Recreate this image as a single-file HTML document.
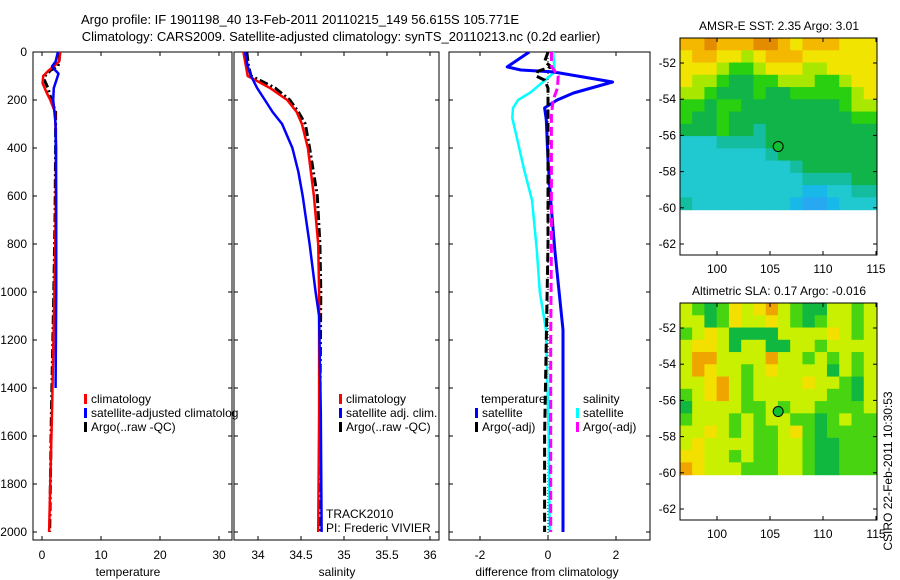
<!DOCTYPE html>
<html><head><meta charset="utf-8"><style>
html,body{margin:0;padding:0;background:#fff;}
svg{display:block;font-family:"Liberation Sans",sans-serif;}
text{font-size:12px;fill:#000;}
</style></head><body>
<svg id="chart" width="900" height="580" viewBox="0 0 900 580">
<text x="300" y="24" text-anchor="middle" style="font-size:13px">Argo profile: IF 1901198_40 13-Feb-2011 20110215_149 56.615S 105.771E</text>
<text x="341" y="41" text-anchor="middle" style="font-size:13px">Climatology: CARS2009. Satellite-adjusted climatology: synTS_20110213.nc (0.2d earlier)</text>
<g id="g"></g>
</svg>
<script>
// ---------- data ----------
const depthTicks=[0,200,400,600,800,1000,1200,1400,1600,1800,2000];
const tempTicks=[0,10,20,30];
const salTicks=[34,34.5,35,35.5,36];
const diffTicks=[-2,0,2];
// temperature profiles
const tClimDepth=[0,40,80,100,130,170,200,250,400,700,1000,1500,2000];
const tClimVal=[3.1,2.9,1.0,0.2,0.1,0.8,1.4,2.2,2.4,2.3,2.1,1.7,1.2];
const tSatDepth=[0,40,60,75,90,120,150,200,300,600,1000,1400];
const tSatVal=[2.7,2.3,1.7,2.2,2.8,2.4,2.0,1.9,2.3,2.4,2.4,2.3];
const tArgoDepth=[0,40,60,75,100,117,150,200,250,400,700,1000,1500,2000];
const tArgoVal=[3.0,2.9,2.7,1.5,0.5,0.4,1.0,1.6,2.3,2.3,2.2,2.0,1.6,1.3];
// salinity profiles
const sClimDepth=[0,60,100,150,200,250,300,400,600,800,1000,1500,2000];
const sClimVal=[33.83,33.86,33.88,34.14,34.34,34.45,34.51,34.58,34.65,34.7,34.71,34.71,34.70];
const sSatDepth=[0,60,100,150,200,250,300,400,500,600,800,1000,1100,1500,2000];
const sSatVal=[33.85,33.88,33.92,33.99,34.08,34.17,34.28,34.4,34.47,34.52,34.6,34.67,34.71,34.73,34.74];
const sArgoDepth=[0,60,100,150,200,250,300,400,600,800,1000,1500,2000];
const sArgoVal=[33.87,33.89,33.92,34.2,34.37,34.47,34.55,34.6,34.69,34.72,34.73,34.72,34.72];
// differences
const dTSatDepth=[0,62,75,83,125,171,200,233,283,450,617,825,1158,1600,2000];
const dTSatVal=[-0.55,-1.2,-0.8,0.15,1.9,0.75,0.27,-0.1,-0.05,0.0,0.08,0.2,0.44,0.44,0.44];
const dSSatDepth=[0,83,125,167,200,233,275,367,492,617,825,1000,1158,1600,2000];
const dSSatVal=[0.15,0.2,-0.15,-0.5,-0.88,-1.03,-1.05,-0.9,-0.7,-0.47,-0.33,-0.24,-0.06,0.02,0.05];
const dTArgoDepth=[0,40,62,80,100,117,150,200,400,800,1200,1600,2000];
const dTArgoVal=[0.0,-0.1,0.1,-0.3,-0.35,-0.1,0.0,0.0,0.0,0.0,-0.05,-0.1,-0.1];
const dSArgoDepth=[0,60,100,150,200,260,400,800,1200,1600,2000];
const dSArgoVal=[0.1,0.1,0.3,0.28,0.15,0.1,0.1,0.1,0.08,0.08,0.08];
// maps
const sstGrid=[
[6,6,7,6,6,6,7,7,6,5,6,6,6,5,5,5],
[5,6,6,5,5,4,5,6,6,6,5,5,5,5,5,5],
[5,5,5,4,3,3,4,5,5,5,4,4,5,5,5,5],
[5,4,4,3,2,2,3,3,4,4,4,3,3,4,5,5],
[4,4,3,2,2,2,3,2,2,3,3,3,3,3,4,5],
[3,3,2,3,3,2,2,2,2,2,2,2,2,3,4,4],
[3,2,2,3,2,2,2,2,2,2,2,2,2,2,3,3],
[2,2,2,3,2,2,1.5,2,2,2,2,2,2,2,2,2],
[1,1,1,1.5,1.5,1.5,1.5,2,2,2,2,2,2,2,2,2],
[1,1,1,1,1,1,1,1.5,2,2,2,2,2,2,2,2],
[1,1,1,1,1,1,1,1,1,1.5,2,2,2,2,2,2],
[1,1,1,1,1,1,1,1,1,1,1.5,1.5,1.5,1.5,2,2],
[1,1,1,1,1,1,1,1,1,1,0.5,0.5,1,1,1.5,1.5],
[1.5,1,1,1,1,1,1,1,1,0.5,0,0,0.5,1,1,1]];
const slaGrid=[
[4,3,2,3,5,4,5,6,4,3,2,2,4,4,3,4],
[4,4,2,3,5,4,4,5,4,3,2,3,4,4,3,4],
[3,4,5,4,2,2,2,2,4,4,4,4,5,4,3,4],
[4,5,5,4,2,4,4,2,2,4,4,3,4,4,4,4],
[4,6,6,4,4,4,4,6,4,4,3,4,3,4,3,4],
[4,6,5,4,4,3,4,5,4,4,4,4,2,4,3,4],
[4,4,5,6,4,3,4,4,4,4,5,4,4,3,2,4],
[3,4,5,6,4,3,4,4,4,4,4,4,3,3,2,4],
[2,4,4,4,4,3,3,4,3,4,4,3,3,3,3,4],
[3,4,4,4,3,4,3,4,4,3,3,2,3,4,3,3],
[4,4,5,4,3,4,3,3,4,5,3,2,3,3,3,3],
[4,5,4,4,4,4,3,3,4,4,3,2,2,3,3,3],
[5,5,4,4,3,4,3,3,4,4,3,2,2,3,3,3],
[6,5,4,4,4,3,3,3,4,4,3,2,2,3,3,3]];
const latTicks=[-52,-54,-56,-58,-60,-62];
const lonTicks=[100,105,110,115];
const argoLon=105.771, argoLat=-56.615;

// ---------- drawing ----------
const NS='http://www.w3.org/2000/svg';
const G=document.getElementById('g');
function el(tag,attrs,parent){const e=document.createElementNS(NS,tag);for(const k in attrs)e.setAttribute(k,attrs[k]);(parent||G).appendChild(e);return e;}
function txt(x,y,s,anchor,parent){const t=el('text',{x:x,y:y,'text-anchor':anchor||'start'},parent);t.textContent=s;return t;}
const yD=d=>52+d*0.24;
const xT=t=>42+t*5.9;
const xS=s=>258+(s-34)*86;
const xDf=v=>548+v*34;
const panels=[{x0:33,x1:232,name:'temperature-panel'},{x0:234,x1:439,name:'salinity-panel'},{x0:449,x1:650,name:'difference-panel'}];
panels.forEach(p=>{
  const r=el('rect',{x:p.x0,y:52,width:p.x1-p.x0,height:488,fill:'none',stroke:'#000','stroke-width':1});
  
  
  depthTicks.forEach(d=>{
    el('line',{x1:p.x0,x2:p.x0+4,y1:yD(d),y2:yD(d),stroke:'#000'});
    el('line',{x1:p.x1-4,x2:p.x1,y1:yD(d),y2:yD(d),stroke:'#000'});
  });
});
depthTicks.forEach(d=>{
  const t=txt(27,yD(d)+4,String(d),'end');
  
  
});
function xticks(ticks,fx,name){ticks.forEach(v=>{
  const x=fx(v);
  el('line',{x1:x,x2:x,y1:52,y2:56,stroke:'#000'});
  el('line',{x1:x,x2:x,y1:536,y2:540,stroke:'#000'});
  const t=txt(x,559,String(v),'middle');
  
  
});}
xticks(tempTicks,xT,'temperature-tick-label');
xticks(salTicks,xS,'salinity-tick-label');
xticks(diffTicks,xDf,'difference-tick-label');
[[128,'temperature','temperature-axis-title'],[337,'salinity','salinity-axis-title'],[547,'difference from climatology','difference-axis-title']].forEach(a=>{
  const t=txt(a[0],576,a[1],'middle');
  
  
});
const defs=el('defs',{});
panels.forEach((p,i)=>{const c=el('clipPath',{id:'c'+i},defs);el('rect',{x:p.x0,y:52,width:p.x1-p.x0,height:488},c);});
function line(depths,vals,fx,color,w,dash,clip,name){
  const pts=depths.map((d,i)=>fx(vals[i]).toFixed(1)+','+yD(d).toFixed(1)).join(' ');
  const a={points:pts,fill:'none',stroke:color,'stroke-width':w,'clip-path':'url(#c'+clip+')','stroke-linejoin':'round'};
  if(dash)a['stroke-dasharray']=dash;
  const pl=el('polyline',a);
  
  
}
const z=el('line',{x1:xDf(0),x2:xDf(0),y1:52,y2:540,stroke:'#000','stroke-width':1,'stroke-dasharray':'1 2'});


line(tArgoDepth,tArgoVal,xT,'#000',3,'9 3 2 3',0,'temperature-argo-line');
line(tClimDepth,tClimVal,xT,'#f00',2.5,null,0,'temperature-climatology-line');
line(tSatDepth,tSatVal,xT,'#00f',2.5,null,0,'temperature-satellite-line');
line(sArgoDepth,sArgoVal,xS,'#000',3,'9 3 2 3',1,'salinity-argo-line');
line(sClimDepth,sClimVal,xS,'#f00',2.5,null,1,'salinity-climatology-line');
line(sSatDepth,sSatVal,xS,'#00f',2.5,null,1,'salinity-satellite-line');
line(dSSatDepth,dSSatVal,xDf,'#0ff',2.5,null,2,'salinity-satellite-diff-line');
line(dTSatDepth,dTSatVal,xDf,'#00f',3,null,2,'temperature-satellite-diff-line');
line(dTArgoDepth,dTArgoVal,xDf,'#000',3,'9 4',2,'temperature-argo-diff-line');
line(dSArgoDepth,dSArgoVal,xDf,'#f0f',3,'9 4',2,'salinity-argo-diff-line');
function legend(x,y,color,label,name){
  const m=el('rect',{x:x,y:y-9,width:3,height:10,fill:color});
  
  
  const t=txt(x+7,y,label);
  
  
}
legend(84,403,'#f00','climatology','legend-temp-climatology');
legend(84,417,'#00f','satellite-adjusted climatolog','legend-temp-satellite');
legend(84,431,'#000','Argo(..raw -QC)','legend-temp-argo');
legend(339,403,'#f00','climatology','legend-sal-climatology');
legend(339,417,'#00f','satellite adj. clim.','legend-sal-satellite');
legend(339,431,'#000','Argo(..raw -QC)','legend-sal-argo');
let tt=txt(481,403,'temperature');
tt=txt(583,403,'salinity');
legend(475,417,'#00f','satellite','legend-diff-temp-satellite');
legend(475,431,'#000','Argo(-adj)','legend-diff-temp-argo');
legend(576,417,'#0ff','satellite','legend-diff-sal-satellite');
legend(576,431,'#f0f','Argo(-adj)','legend-diff-sal-argo');
tt=txt(326,518,'TRACK2010');
tt=txt(326,532,'PI: Frederic VIVIER');
const sstCols={0:'#28a8f0',0.5:'#18b8e8',1:'#20c8d0',1.5:'#14bca0',2:'#10b448',3:'#28d010',4:'#a8e800',5:'#f0e400',6:'#f4b800',7:'#e48c00'};
const slaCols={2:'#10b840',3:'#48d410',4:'#c8f000',5:'#f4e000',6:'#f0a400'};
function drawMap(top,grid,cols,title,name){
  const x0=680,x1=877,yTop=top,y52=top+25,s=18.1;
  const yL=lat=>y52+(-52-lat)*s;
  const xL=lon=>717+(lon-100)*10.6;
  const latTop=-50.62,latBot=-60.1,lonL=96.5,lonR=115;
  const rows=grid.length,cols_=grid[0].length;
  const g=el('g',{});
  
  
  for(let r=0;r<rows;r++)for(let c=0;c<cols_;c++){
    const la0=latTop+(latBot-latTop)*r/rows, la1=latTop+(latBot-latTop)*(r+1)/rows;
    const lo0=lonL+(lonR-lonL)*c/cols_, lo1=lonL+(lonR-lonL)*(c+1)/cols_;
    const cell=el('rect',{x:xL(lo0),y:yL(la0),width:xL(lo1)-xL(lo0)+0.6,height:yL(la1)-yL(la0)+0.6,fill:cols[grid[r][c]]},g);
    
    
  }
  const fr=el('rect',{x:x0,y:yTop,width:x1-x0,height:217,fill:'none',stroke:'#000'},g);
  
  
  latTicks.forEach(l=>{const y=yL(l);el('line',{x1:x0,x2:x0+4,y1:y,y2:y,stroke:'#000'},g);el('line',{x1:x1-4,x2:x1,y1:y,y2:y,stroke:'#000'},g);
    const t=txt(x0-4,y+4,String(l),'end',g);});
  lonTicks.forEach(l=>{const x=xL(l);el('line',{x1:x,x2:x,y1:yTop+213,y2:yTop+217,stroke:'#000'},g);el('line',{x1:x,x2:x,y1:yTop,y2:yTop+4,stroke:'#000'},g);
    const t=txt(x,yTop+235,String(l),'middle',g);});
  const dot=el('circle',{cx:xL(argoLon),cy:yL(argoLat),r:5,fill:'#10c030',stroke:'#000'},g);
  
  
  const t=txt(779,yTop-8,title,'middle',g);
  
  
}
drawMap(38,sstGrid,sstCols,'AMSR-E SST: 2.35 Argo: 3.01','sst-map');
drawMap(303,slaGrid,slaCols,'Altimetric SLA: 0.17 Argo: -0.016','sla-map');
const cs=txt(0,0,'CSIRO 22-Feb-2011 10:30:53','middle');
cs.setAttribute('transform','translate(892,471) rotate(-90)');


</script>
</body></html>
